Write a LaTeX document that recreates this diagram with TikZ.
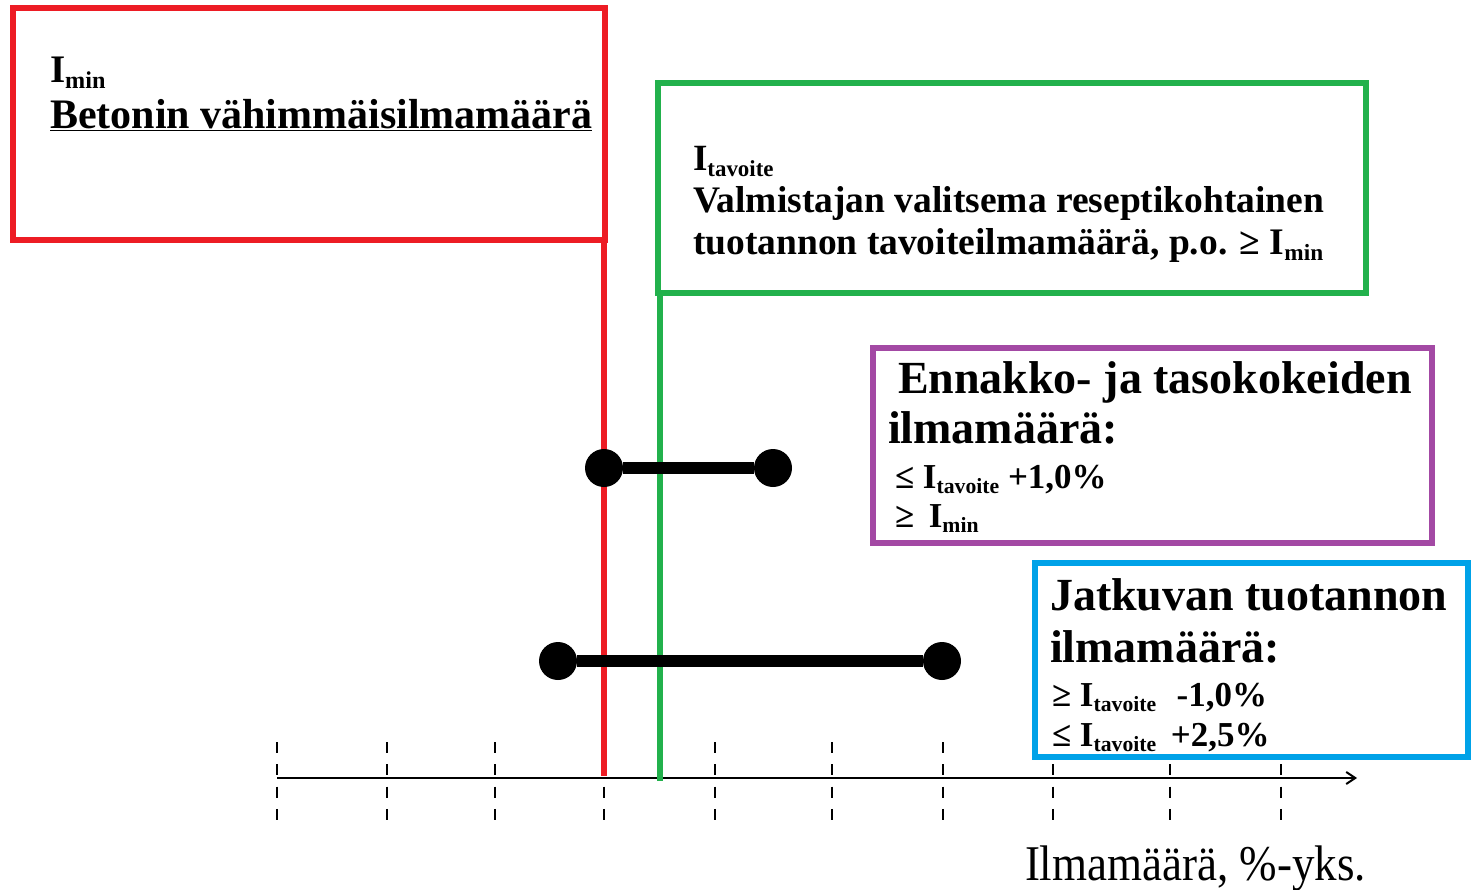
\documentclass[tikz,border=0pt]{standalone}
\usepackage{fontspec}
\setmainfont{Liberation Serif}
\usetikzlibrary{arrows.meta}
\definecolor{pred}{RGB}{237,28,36}
\definecolor{pgreen}{RGB}{34,177,76}
\definecolor{ppurple}{RGB}{163,73,164}
\definecolor{pblue}{RGB}{0,162,232}
\newcommand\lowsub[1]{\raisebox{-0.17em}{\scalebox{0.62}{#1}}}
\begin{document}
\begin{tikzpicture}[x=1pt,y=-1pt,
  frame/.style={draw=#1, fill=white, line width=6pt, inner sep=0pt, outer sep=0pt, anchor=north west},
  txt/.style={anchor=base west, inner sep=0pt, outer sep=0pt, font=\bfseries\fontsize{#1}{#1}\selectfont},
  plain/.style={anchor=base west, inner sep=0pt, outer sep=0pt, font=\fontsize{#1}{#1}\selectfont},
  vline/.style={draw=#1, line width=6pt},
  dot/.style={circle, fill=black, minimum size=38pt, inner sep=0pt, outer sep=0pt},
  bar/.style={line width=12pt, draw=black},
  tick/.style={line width=2.5pt, dash pattern=on 11pt off 11.3pt},
  axisline/.style={line width=2pt, -{Straight Barb[length=9pt,width=12pt,line width=2pt]}}]
\useasboundingbox (0,0) rectangle (1480,889);
\fill[white] (0,0) rectangle (1480,889);

% ticks
\foreach \x in {277,387,495,604,715,832,943,1053,1170,1281}
  \draw[tick] (\x,742) -- (\x,822);
% axis
\coordinate (ax0) at (277,778);
\coordinate (ax1) at (1357,778);
\draw[axisline] (ax0) -- (ax1);

% boxes
\node[frame=pred, minimum width=592pt, minimum height=232pt] (redbox) at (13,8) {};
\node[frame=pgreen, minimum width=708pt, minimum height=210pt] (greenbox) at (658,83) {};
\node[frame=ppurple, minimum width=559pt, minimum height=195pt] (purplebox) at (873,348) {};
\node[frame=pblue, minimum width=433pt, minimum height=194pt] (bluebox) at (1035,563) {};

% vertical lines
\coordinate (redfoot) at (604,776);
\coordinate (greenfoot) at (660,781);
\draw[vline=pred] (redbox.south east -| redfoot) -- (redfoot);
\draw[vline=pgreen] (greenbox.south west -| greenfoot) -- (greenfoot);

% dumbbells
\node[dot] (a1) at (604,468) {};
\node[dot] (a2) at (773,468) {};
\draw[bar] (a1) -- (a2);
\node[dot] (b1) at (558,661) {};
\node[dot] (b2) at (942,661) {};
\draw[bar] (b1) -- (b2);

% red box texts
\node[txt=39] (rt1) at (50,82) {I\lowsub{min}};
\node[txt=42] (rt2) at (50,128) {\underline{Betonin vähimmäisilmamäärä}};

% green box texts
\node[txt=37] (gt1) at (693,170) {I\lowsub{tavoite}};
\node[txt=37.5] (gt2) at (693,212) {Valmistajan valitsema reseptikohtainen};
\node[txt=37.5] (gt3) at (693,254) {tuotannon tavoiteilmamäärä, p.o. ≥ I\lowsub{min}};

% purple box texts
\node[txt=46] (pt1) at (898,393) {Ennakko- ja tasokokeiden};
\node[txt=46] (pt2) at (888,443) {ilmamäärä:};
\node[txt=35] (pt3) at (895,488) {≤ I\lowsub{tavoite} +1,0\%};
\node[txt=35] (pt4) at (895,527) {≥\, I\lowsub{min}};

% blue box texts
\node[txt=46] (bt1) at (1050,610) {Jatkuvan tuotannon};
\node[txt=46] (bt2) at (1050,662) {ilmamäärä:};
\node[txt=35] (bt3) at (1052,706) {≥ I\lowsub{tavoite}\,\, -1,0\%};
\node[txt=35] (bt4) at (1052,746) {≤ I\lowsub{tavoite}\, +2,5\%};

% axis label
\node[plain=50] (lbl) at (1025,880) {\scalebox{0.9}[1]{Ilmamäärä, \%-yks.}};
\end{tikzpicture}
\end{document}
